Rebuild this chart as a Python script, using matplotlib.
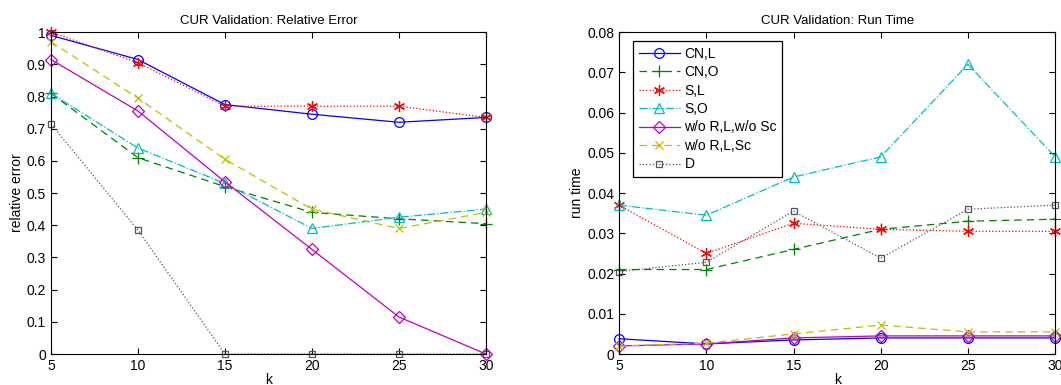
import matplotlib
matplotlib.use("Agg")
import matplotlib.pyplot as plt

plt.rcParams['font.family'] = ['Liberation Sans', 'DejaVu Sans']
plt.rcParams['font.size'] = 10

# data
k = [5, 10, 15, 20, 25, 30]
labels = ["CN,L", "CN,O", "S,L", "S,O", "w/o R,L,w/o Sc", "w/o R,L,Sc", "D"]

err_cnl = [0.99, 0.915, 0.775, 0.745, 0.72, 0.735]
err_cno = [0.81, 0.61, 0.52, 0.44, 0.42, 0.405]
err_sl = [1.0, 0.905, 0.77, 0.77, 0.77, 0.735]
err_so = [0.81, 0.64, 0.53, 0.39, 0.425, 0.45]
err_nosc = [0.915, 0.755, 0.535, 0.325, 0.115, 0.0]
err_sc = [0.97, 0.795, 0.605, 0.45, 0.39, 0.44]
err_d = [0.715, 0.385, 0.0, 0.0, 0.0, 0.0]

time_cnl = [0.0038, 0.0025, 0.0035, 0.004, 0.004, 0.004]
time_cno = [0.021, 0.021, 0.026, 0.031, 0.033, 0.0335]
time_sl = [0.037, 0.025, 0.0325, 0.031, 0.0305, 0.0305]
time_so = [0.037, 0.0345, 0.044, 0.049, 0.072, 0.049]
time_nosc = [0.002, 0.0025, 0.004, 0.0045, 0.0045, 0.0045]
time_sc = [0.002, 0.0027, 0.005, 0.0072, 0.0055, 0.0055]
time_d = [0.0205, 0.0228, 0.0355, 0.0238, 0.036, 0.037]

# matlab-like line specs
styles = [
    dict(color='#0000ff', ls='-', marker='o', mfc='none', ms=7),
    dict(color='#008000', ls=(0, (6, 4)), marker='+', ms=8),
    dict(color='#ff0000', ls=':', marker=(6, 2, 0), ms=8),
    dict(color='#00bfbf', ls='-.', marker='^', mfc='none', ms=7),
    dict(color='#bf00bf', ls='-', marker='D', mfc='none', ms=6),
    dict(color='#bfbf00', ls=(0, (6, 4)), marker='x', ms=6),
    dict(color='#555555', ls=':', marker='s', mfc='none', ms=5),
]

fig = plt.figure(figsize=(10.61, 3.85), dpi=100)
ax1 = fig.add_axes([0.048, 0.0805, 0.41, 0.836])
ax2 = fig.add_axes([0.5835, 0.0805, 0.411, 0.836])

errs = [err_cnl, err_cno, err_sl, err_so, err_nosc, err_sc, err_d]
times = [time_cnl, time_cno, time_sl, time_so, time_nosc, time_sc, time_d]

for ax, data in [(ax1, errs), (ax2, times)]:
    for y, lab, st in zip(data, labels, styles):
        ax.plot(k, y, label=lab, lw=0.9, mew=0.9, clip_on=False, **st)
    ax.set_xlim(5, 30)
    ax.set_xticks(k)
    ax.tick_params(direction='in', top=True, right=True, length=4, labelsize=10)
    ax.set_xlabel('k', labelpad=0)

ax1.set_ylim(0, 1)
ax1.set_yticks([i / 10 for i in range(11)])
ax1.set_yticklabels(['0', '0.1', '0.2', '0.3', '0.4', '0.5', '0.6', '0.7', '0.8', '0.9', '1'])
ax1.set_ylabel('relative error', labelpad=2)
ax1.set_title('CUR Validation: Relative Error', fontsize=9.5)

ax2.set_ylim(0, 0.08)
ax2.set_yticks([i / 100 for i in range(9)])
ax2.set_yticklabels(['0', '0.01', '0.02', '0.03', '0.04', '0.05', '0.06', '0.07', '0.08'])
ax2.set_ylabel('run time', labelpad=2)
ax2.set_title('CUR Validation: Run Time', fontsize=9.5)
leg = ax2.legend(loc='upper left', bbox_to_anchor=(0.032, 0.972), borderaxespad=0,
                 fontsize=10, fancybox=False, edgecolor='black', framealpha=1,
                 handlelength=3, labelspacing=0.32, handletextpad=0.3, borderpad=0.4)
leg.get_frame().set_linewidth(0.9)

fig.savefig('out.png', dpi=100)
